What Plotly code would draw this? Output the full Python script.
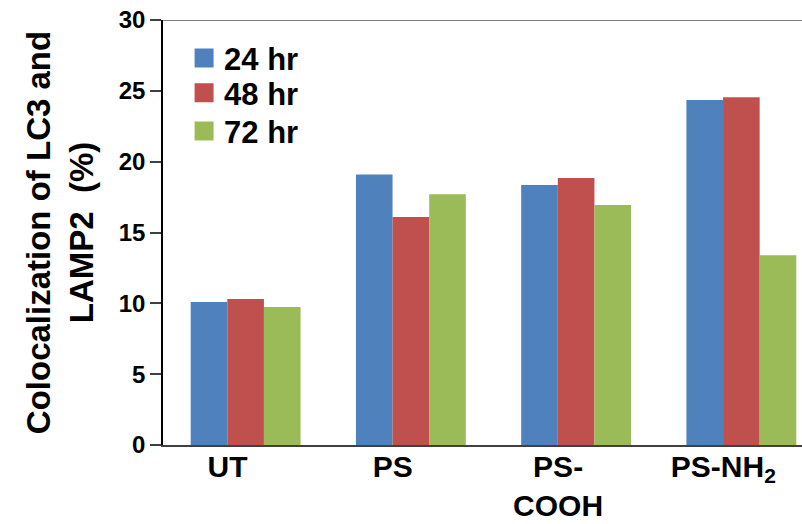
import plotly.graph_objects as go

categories = ["UT", "PS", "PS-<br>COOH", "PS-NH<sub>2</sub>"]
series_names = ["24 hr", "48 hr", "72 hr"]
values_24 = [10.1, 19.1, 18.35, 24.35]
values_48 = [10.3, 16.1, 18.85, 24.55]
values_72 = [9.75, 17.7, 16.95, 13.4]
colors = ["#4F81BD", "#C0504D", "#9BBB59"]
y_ticks = [0, 5, 10, 15, 20, 25, 30]

FONT = "Liberation Sans, Arial, sans-serif"
legend_ids = ["legend", "legend2", "legend3"]
legend_y = [0.91, 0.828, 0.738]

fig = go.Figure()
for name, vals, col in zip(series_names, [values_24, values_48, values_72], colors):
    fig.add_trace(go.Bar(x=categories, y=vals, name=name, marker=dict(color=col, line=dict(width=0)),
                         showlegend=False))
# legend entries with larger square swatches
for name, col, lid in zip(series_names, colors, legend_ids):
    fig.add_trace(go.Scatter(x=[None], y=[None], mode="markers", name=name, legend=lid,
                             marker=dict(symbol="square", size=16, color=col,
                                         line=dict(color=col, width=3)),
                             showlegend=True))

legend_common = dict(x=0.033, xanchor="left", yanchor="middle",
                     font=dict(size=31, family=FONT, weight="bold"),
                     bgcolor="rgba(0,0,0,0)")

fig.update_layout(
    width=802, height=524,
    margin=dict(l=163, r=0, t=20, b=79),
    paper_bgcolor="white", plot_bgcolor="white",
    barmode="group", bargap=0.335, bargroupgap=0,
    font=dict(family=FONT, color="black"),
    legend=dict(y=legend_y[0], **legend_common),
    legend2=dict(y=legend_y[1], **legend_common),
    legend3=dict(y=legend_y[2], **legend_common),
    xaxis=dict(range=[-0.5, 3.367], showline=True, linecolor="#404040", linewidth=1.5,
               ticks="", showgrid=False, zeroline=False, automargin=False,
               tickfont=dict(size=30, family=FONT, weight="bold"),
               ticklabelshift=-18, ticklabelstandoff=-6),
    yaxis=dict(range=[0, 30], tickvals=y_ticks, showline=True, linecolor="black", linewidth=1.5,
               ticks="outside", ticklen=11, tickwidth=1.5, tickcolor="#404040",
               showgrid=False, zeroline=False, automargin=False,
               tickfont=dict(size=24, family=FONT, weight="bold"),
               title=dict(text="Colocalization of LC3 and<br>LAMP2  (%)",
                          font=dict(size=33, family=FONT, weight="bold"), standoff=15)),
    shapes=[dict(type="line", xref="paper", yref="y", x0=0, x1=1, y0=30, y1=30,
                 line=dict(color="#7F7F7F", width=2), layer="below")],
)

fig.write_html("out.html")
